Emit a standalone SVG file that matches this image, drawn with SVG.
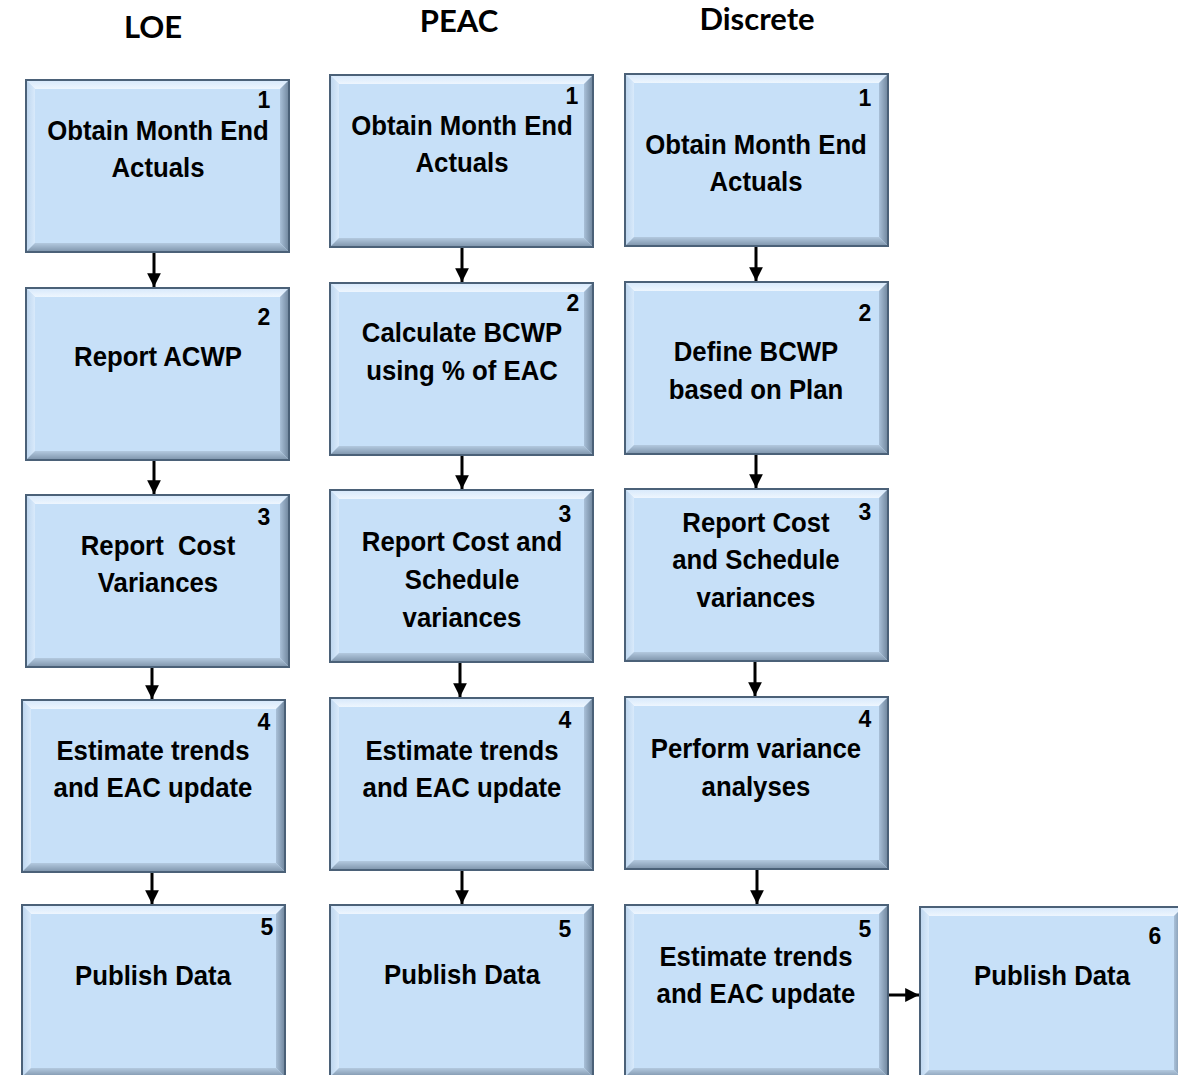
<svg xmlns="http://www.w3.org/2000/svg" xmlns:xlink="http://www.w3.org/1999/xlink" width="1178" height="1075" viewBox="0 0 1178 1075">
  <defs>
    <linearGradient id="gTop" x1="0" y1="0" x2="0" y2="1">
      <stop offset="0" stop-color="#d6e8fb"/>
      <stop offset="1" stop-color="#eef6fe"/>
    </linearGradient>
    <linearGradient id="gLeft" x1="0" y1="0" x2="1" y2="0">
      <stop offset="0" stop-color="#bcd5ee"/>
      <stop offset="1" stop-color="#d9eafb"/>
    </linearGradient>
    <linearGradient id="gRight" x1="0" y1="0" x2="1" y2="0">
      <stop offset="0" stop-color="#a9c0d8"/>
      <stop offset="1" stop-color="#6f859c"/>
    </linearGradient>
    <linearGradient id="gBottom" x1="0" y1="0" x2="0" y2="1">
      <stop offset="0" stop-color="#b3c9df"/>
      <stop offset="1" stop-color="#7d93aa"/>
    </linearGradient>
    <!-- bevelled step box, 263 x 172 -->
    <g id="box">
      <rect x="0" y="0" width="263" height="172" fill="#c7e0f8"/>
      <polygon points="0,0 263,0 254,9 9,9" fill="url(#gTop)"/>
      <polygon points="0,0 9,9 9,163 0,172" fill="url(#gLeft)"/>
      <polygon points="263,0 263,172 254,163 254,9" fill="url(#gRight)"/>
      <polygon points="0,172 263,172 254,163 9,163" fill="url(#gBottom)"/>
      <rect x="0" y="0" width="263" height="172" fill="none" stroke="#4b6178" stroke-width="2"/>
    </g>
    <marker id="arrow" viewBox="0 0 10 10" refX="10" refY="5" markerWidth="4.6" markerHeight="4.6" orient="auto" markerUnits="strokeWidth">
      <path d="M0,0 L10,5 L0,10 z" fill="#000"/>
    </marker>
  </defs>
  <style>
    .hdr { font-family: "Lato", "Liberation Sans", sans-serif; font-weight: 700; font-size: 31px; fill: #000; text-anchor: middle; }
    .lbl { font-family: "Liberation Sans", Arial, sans-serif; font-weight: 700; font-size: 28px; fill: #000; text-anchor: middle;
           transform-box: fill-box; transform-origin: center; transform: scaleX(0.92); }
    .num { font-family: "Liberation Sans", Arial, sans-serif; font-weight: 700; font-size: 23px; fill: #000; text-anchor: middle; }
    .conn { stroke: #000; stroke-width: 3; fill: none; marker-end: url(#arrow); }
  </style>

  <rect width="1178" height="1075" fill="#fff"/>

  <!-- column headings -->
  <g id="headings">
    <text class="hdr" x="153" y="38">LOE</text>
    <text class="hdr" x="459" y="32">PEAC</text>
    <text class="hdr" x="757" y="30">Discrete</text>
  </g>

  <!-- LOE column -->
  <g id="loe-1" transform="translate(26,80)">
    <use xlink:href="#box"/>
    <text class="num" x="238" y="28">1</text>
    <text class="lbl" x="132" y="60">Obtain Month End</text>
    <text class="lbl" x="132" y="97">Actuals</text>
  </g>
  <g id="loe-2" transform="translate(26,288)">
    <use xlink:href="#box"/>
    <text class="num" x="238" y="37">2</text>
    <text class="lbl" x="132" y="78">Report ACWP</text>
  </g>
  <g id="loe-3" transform="translate(26,495)">
    <use xlink:href="#box"/>
    <text class="num" x="238" y="30">3</text>
    <text class="lbl" x="132" y="60" xml:space="preserve">Report  Cost</text>
    <text class="lbl" x="132" y="97">Variances</text>
  </g>
  <g id="loe-4" transform="translate(22,700)">
    <use xlink:href="#box"/>
    <text class="num" x="242" y="30">4</text>
    <text class="lbl" x="131" y="60">Estimate trends</text>
    <text class="lbl" x="131" y="97">and EAC update</text>
  </g>
  <g id="loe-5" transform="translate(22,905)">
    <use xlink:href="#box"/>
    <text class="num" x="245" y="30">5</text>
    <text class="lbl" x="131" y="80">Publish Data</text>
  </g>

  <!-- PEAC column -->
  <g id="peac-1" transform="translate(330,75)">
    <use xlink:href="#box"/>
    <text class="num" x="242" y="29">1</text>
    <text class="lbl" x="132" y="60">Obtain Month End</text>
    <text class="lbl" x="132" y="97">Actuals</text>
  </g>
  <g id="peac-2" transform="translate(330,283)">
    <use xlink:href="#box"/>
    <text class="num" x="243" y="28">2</text>
    <text class="lbl" x="132" y="59">Calculate BCWP</text>
    <text class="lbl" x="132" y="97">using % of EAC</text>
  </g>
  <g id="peac-3" transform="translate(330,490)">
    <use xlink:href="#box"/>
    <text class="num" x="235" y="32">3</text>
    <text class="lbl" x="132" y="61">Report Cost and</text>
    <text class="lbl" x="132" y="99">Schedule</text>
    <text class="lbl" x="132" y="137">variances</text>
  </g>
  <g id="peac-4" transform="translate(330,698)">
    <use xlink:href="#box"/>
    <text class="num" x="235" y="30">4</text>
    <text class="lbl" x="132" y="62">Estimate trends</text>
    <text class="lbl" x="132" y="99">and EAC update</text>
  </g>
  <g id="peac-5" transform="translate(330,905)">
    <use xlink:href="#box"/>
    <text class="num" x="235" y="32">5</text>
    <text class="lbl" x="132" y="79">Publish Data</text>
  </g>

  <!-- Discrete column -->
  <g id="discrete-1" transform="translate(625,74)">
    <use xlink:href="#box"/>
    <text class="num" x="240" y="32">1</text>
    <text class="lbl" x="131" y="80">Obtain Month End</text>
    <text class="lbl" x="131" y="117">Actuals</text>
  </g>
  <g id="discrete-2" transform="translate(625,282)">
    <use xlink:href="#box"/>
    <text class="num" x="240" y="39">2</text>
    <text class="lbl" x="131" y="79">Define BCWP</text>
    <text class="lbl" x="131" y="117">based on Plan</text>
  </g>
  <g id="discrete-3" transform="translate(625,489)">
    <use xlink:href="#box"/>
    <text class="num" x="240" y="31">3</text>
    <text class="lbl" x="131" y="43">Report Cost</text>
    <text class="lbl" x="131" y="80">and Schedule</text>
    <text class="lbl" x="131" y="118">variances</text>
  </g>
  <g id="discrete-4" transform="translate(625,697)">
    <use xlink:href="#box"/>
    <text class="num" x="240" y="30">4</text>
    <text class="lbl" x="131" y="61">Perform variance</text>
    <text class="lbl" x="131" y="99">analyses</text>
  </g>
  <g id="discrete-5" transform="translate(625,905)">
    <use xlink:href="#box"/>
    <text class="num" x="240" y="32">5</text>
    <text class="lbl" x="131" y="61">Estimate trends</text>
    <text class="lbl" x="131" y="98">and EAC update</text>
  </g>
  <g id="discrete-6" transform="translate(920,907)">
    <use xlink:href="#box"/>
    <text class="num" x="235" y="37">6</text>
    <text class="lbl" x="132" y="78">Publish Data</text>
  </g>

  <!-- connectors -->
  <g id="connectors">
    <line class="conn" x1="154" y1="253" x2="154" y2="287"/>
    <line class="conn" x1="154" y1="461" x2="154" y2="494"/>
    <line class="conn" x1="152" y1="668" x2="152" y2="699"/>
    <line class="conn" x1="152" y1="873" x2="152" y2="904"/>

    <line class="conn" x1="462" y1="248" x2="462" y2="282"/>
    <line class="conn" x1="462" y1="456" x2="462" y2="489"/>
    <line class="conn" x1="460" y1="663" x2="460" y2="697"/>
    <line class="conn" x1="462" y1="871" x2="462" y2="904"/>

    <line class="conn" x1="756" y1="247" x2="756" y2="281"/>
    <line class="conn" x1="756" y1="455" x2="756" y2="488"/>
    <line class="conn" x1="755" y1="662" x2="755" y2="696"/>
    <line class="conn" x1="757" y1="870" x2="757" y2="904"/>

    <line class="conn" x1="889" y1="995" x2="919" y2="995"/>
  </g>
</svg>
